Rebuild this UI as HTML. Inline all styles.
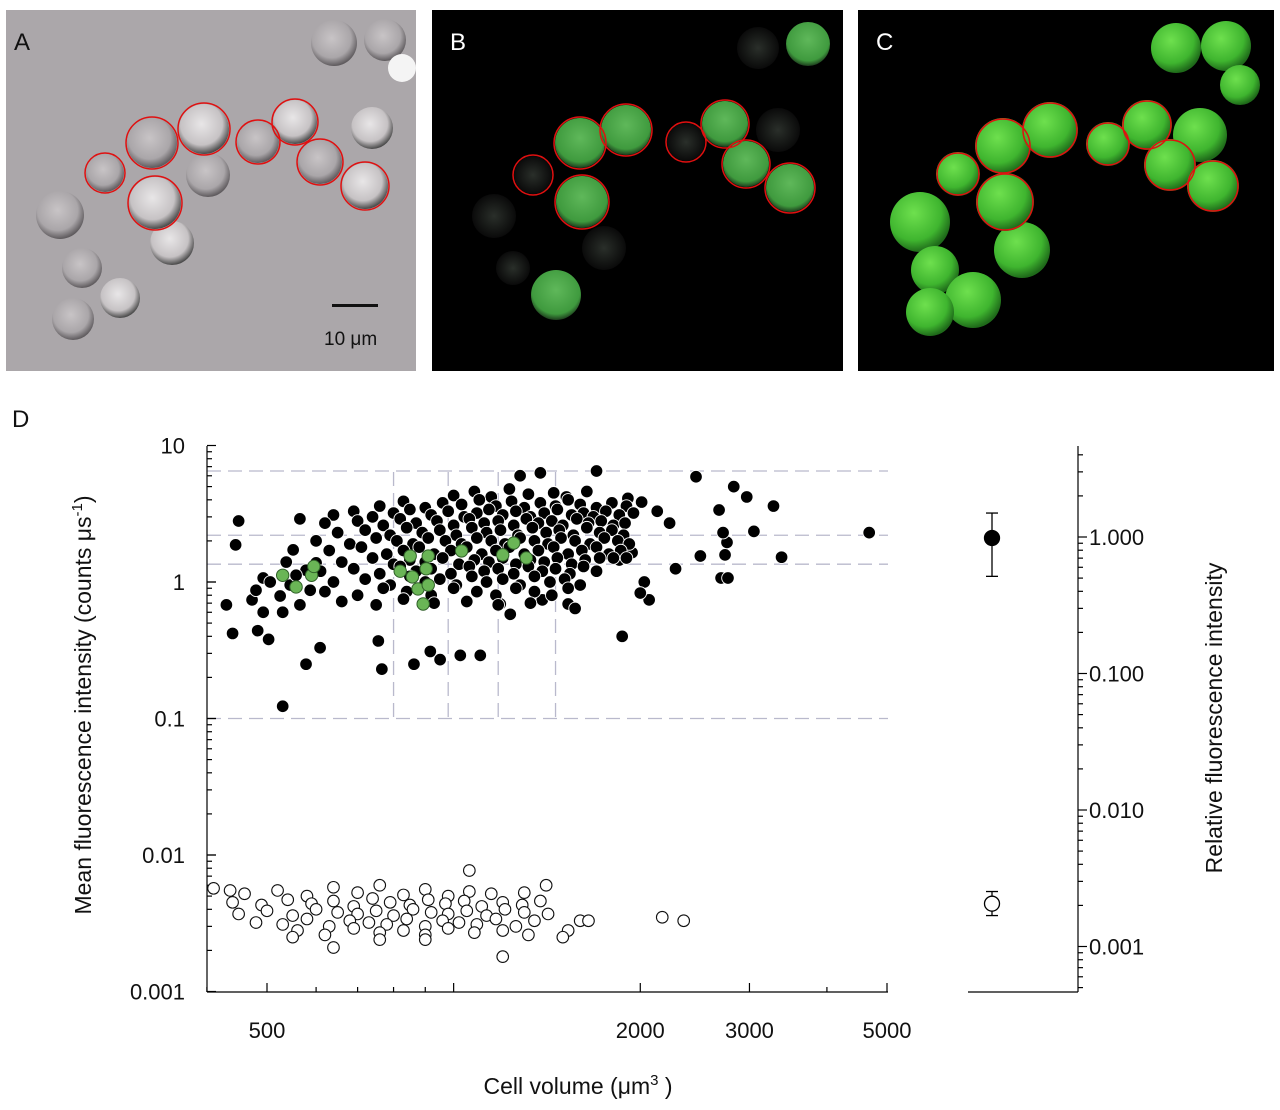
<!DOCTYPE html>
<html><head><meta charset="utf-8"><style>
html,body{margin:0;padding:0;background:#fff;}
svg{display:block;font-family:"Liberation Sans",Arial,sans-serif;}
</style></head><body>
<svg id="fig" width="1280" height="1110" viewBox="0 0 1280 1110">
<defs>
<radialGradient id="cellA" cx="45%" cy="40%" r="60%"><stop offset="0" stop-color="#c8c4c6"/><stop offset="0.7" stop-color="#aaa6a9"/><stop offset="1" stop-color="#5e5a5d"/></radialGradient>
<radialGradient id="cellW" cx="45%" cy="40%" r="60%"><stop offset="0" stop-color="#e8e6e7"/><stop offset="0.7" stop-color="#c6c2c4"/><stop offset="1" stop-color="#4a4a4a"/></radialGradient>
<radialGradient id="cellG" cx="50%" cy="40%" r="60%"><stop offset="0" stop-color="#5fb85a"/><stop offset="0.8" stop-color="#3f9a3e"/><stop offset="1" stop-color="#1d3d1d"/></radialGradient>
<radialGradient id="cellD" cx="50%" cy="50%" r="50%"><stop offset="0" stop-color="#2a2f2a"/><stop offset="1" stop-color="#0a0a0a"/></radialGradient>
<radialGradient id="cellC" cx="40%" cy="35%" r="65%"><stop offset="0" stop-color="#6ee04e"/><stop offset="0.7" stop-color="#3fb52f"/><stop offset="1" stop-color="#1f6a1a"/></radialGradient>
</defs>

<g>
<rect x="6" y="10" width="410" height="361" fill="#aba7aa"/>
<g>
<circle cx="334" cy="43" r="23" fill="url(#cellA)"/><circle cx="385" cy="40" r="21" fill="url(#cellA)"/><circle cx="402" cy="68" r="14" fill="#f4f4f4"/>
<circle cx="372" cy="128" r="21" fill="url(#cellW)"/><circle cx="208" cy="175" r="22" fill="url(#cellA)"/>
<circle cx="172" cy="243" r="22" fill="url(#cellW)"/><circle cx="60" cy="215" r="24" fill="url(#cellA)"/>
<circle cx="82" cy="268" r="20" fill="url(#cellA)"/><circle cx="73" cy="319" r="21" fill="url(#cellA)"/><circle cx="120" cy="298" r="20" fill="url(#cellW)"/>
<circle cx="105" cy="173" r="19" fill="url(#cellA)"/><circle cx="152" cy="143" r="25" fill="url(#cellA)"/><circle cx="204" cy="129" r="25" fill="url(#cellW)"/>
<circle cx="155" cy="203" r="26" fill="url(#cellW)"/><circle cx="258" cy="142" r="21" fill="url(#cellA)"/><circle cx="295" cy="122" r="22" fill="url(#cellW)"/>
<circle cx="320" cy="162" r="22" fill="url(#cellA)"/><circle cx="365" cy="186" r="23" fill="url(#cellW)"/>
</g>
<g fill="none" stroke="#e01010" stroke-width="1.5">
<circle cx="105" cy="173" r="20"/><circle cx="152" cy="143" r="26"/><circle cx="204" cy="129" r="26"/><circle cx="155" cy="203" r="27"/>
<circle cx="258" cy="142" r="22"/><circle cx="295" cy="122" r="23"/><circle cx="320" cy="162" r="23"/><circle cx="365" cy="186" r="24"/>
</g>
<text x="14" y="50" font-size="24" fill="#111">A</text>
<rect x="332" y="304" width="46" height="3" fill="#111"/>
<text x="324" y="345" font-size="19" fill="#111">10 μm</text>
</g>

<g>
<rect x="432" y="10" width="411" height="361" fill="#000"/>
<g>
<circle cx="758" cy="48" r="21" fill="url(#cellD)"/><circle cx="808" cy="44" r="22" fill="url(#cellG)"/>
<circle cx="778" cy="130" r="22" fill="url(#cellD)"/><circle cx="494" cy="216" r="22" fill="url(#cellD)"/>
<circle cx="604" cy="248" r="22" fill="url(#cellD)"/><circle cx="513" cy="268" r="17" fill="url(#cellD)"/>
<circle cx="556" cy="295" r="25" fill="url(#cellG)"/>
<circle cx="533" cy="175" r="19" fill="url(#cellD)"/><circle cx="580" cy="143" r="25" fill="url(#cellG)"/><circle cx="626" cy="130" r="25" fill="url(#cellG)"/>
<circle cx="582" cy="202" r="26" fill="url(#cellG)"/><circle cx="686" cy="142" r="19" fill="url(#cellD)"/><circle cx="725" cy="124" r="23" fill="url(#cellG)"/>
<circle cx="746" cy="164" r="23" fill="url(#cellG)"/><circle cx="790" cy="188" r="24" fill="url(#cellG)"/>
</g>
<g fill="none" stroke="#e01010" stroke-width="1.5">
<circle cx="533" cy="175" r="20"/><circle cx="580" cy="143" r="26"/><circle cx="626" cy="130" r="26"/><circle cx="582" cy="202" r="27"/>
<circle cx="686" cy="142" r="20"/><circle cx="725" cy="124" r="24"/><circle cx="746" cy="164" r="24"/><circle cx="790" cy="188" r="25"/>
</g>
<text x="450" y="50" font-size="24" fill="#fff">B</text>
</g>

<g>
<rect x="858" y="10" width="416" height="361" fill="#000"/>
<g>
<circle cx="1176" cy="48" r="25" fill="url(#cellC)"/><circle cx="1226" cy="46" r="25" fill="url(#cellC)"/><circle cx="1240" cy="85" r="20" fill="url(#cellC)"/>
<circle cx="1200" cy="135" r="27" fill="url(#cellC)"/><circle cx="1022" cy="250" r="28" fill="url(#cellC)"/><circle cx="920" cy="222" r="30" fill="url(#cellC)"/>
<circle cx="935" cy="270" r="24" fill="url(#cellC)"/><circle cx="973" cy="300" r="28" fill="url(#cellC)"/><circle cx="930" cy="312" r="24" fill="url(#cellC)"/>
<circle cx="958" cy="174" r="22" fill="url(#cellC)"/><circle cx="1003" cy="146" r="28" fill="url(#cellC)"/><circle cx="1050" cy="130" r="28" fill="url(#cellC)"/>
<circle cx="1005" cy="202" r="29" fill="url(#cellC)"/><circle cx="1108" cy="144" r="22" fill="url(#cellC)"/><circle cx="1147" cy="125" r="25" fill="url(#cellC)"/>
<circle cx="1170" cy="165" r="26" fill="url(#cellC)"/><circle cx="1213" cy="186" r="26" fill="url(#cellC)"/>
</g>
<g fill="none" stroke="#e01010" stroke-width="1.5">
<circle cx="958" cy="174" r="21"/><circle cx="1003" cy="146" r="27"/><circle cx="1050" cy="130" r="27"/><circle cx="1005" cy="202" r="28"/>
<circle cx="1108" cy="144" r="21"/><circle cx="1147" cy="125" r="24"/><circle cx="1170" cy="165" r="25"/><circle cx="1213" cy="186" r="25"/>
</g>
<text x="876" y="50" font-size="24" fill="#fff">C</text>
</g>

<text x="12" y="427" font-size="24" fill="#111">D</text>
<g id="chart"></g>
</svg>
<script>
const blackVol = [430,440,445,450,473,483,493,503,530,537,545,551,565,578,609,493,480,506,525,530,565,578,587,600,557,
756,766,863,917,951,1025,1104,1234,1189,1390,1530,1570,1870,2067,
2010,2130,2230,2280,2460,2500,2680,2700,2770,2740,2830,2970,3050,3280,3380,4680,2760,2720,1940,1850,2030,2000,1910,1700,1380,1280,
1000,1080,1150,1230,1320,1450,1520,1640,
760,830,900,960,1030,1100,1170,1240,1300,1380,1460,1530,1600,1700,1800,1900,
640,690,740,800,850,920,980,1040,1090,1140,1200,1260,1330,1400,1470,1550,1620,1680,1760,1850,1950,
620,700,770,820,870,940,1000,1060,1120,1180,1250,1310,1370,1440,1500,1580,1650,1730,1810,1890,
650,720,790,840,890,950,1010,1070,1130,1190,1270,1340,1410,1480,1560,1640,1720,1800,1880,
600,680,750,810,860,910,970,1030,1090,1150,1210,1280,1350,1420,1490,1570,1660,1750,1840,1920,
630,710,780,830,880,930,990,1050,1110,1170,1230,1300,1370,1450,1530,1610,1700,1780,1860,
660,740,800,850,900,960,1020,1080,1140,1200,1260,1330,1400,1470,1550,1630,1720,1810,1900,
610,690,760,820,870,920,990,1060,1120,1180,1250,1320,1390,1460,1540,1620,1700,
640,720,790,850,900,950,1010,1070,1130,1200,1280,1350,1430,1510,1600,
620,700,770,840,920,1000,1090,1170,1260,1350,1440,1530,
660,750,830,930,1050,1180,1330];
const blackInt = [0.68,0.42,1.87,2.8,0.74,0.44,0.6,0.38,0.123,1.4,0.95,1.72,2.9,0.25,0.33,1.07,0.87,1.0,0.79,0.6,0.68,1.22,0.87,1.38,1.12,
0.37,0.23,0.25,0.31,0.27,0.29,0.29,0.58,0.69,0.74,0.69,0.64,0.40,0.74,
3.85,3.3,2.7,1.25,5.9,1.55,3.37,1.07,1.07,1.58,5.0,4.2,2.35,3.6,1.52,2.3,1.95,2.3,1.64,1.45,1.0,0.83,4.1,6.5,6.3,6.0,
4.3,4.6,4.2,4.8,4.4,4.5,4.2,4.6,
3.6,3.9,3.5,3.8,3.7,4.0,3.6,3.9,3.5,3.8,3.6,4.0,3.7,3.5,3.8,3.6,
3.1,3.3,3.0,3.2,3.4,3.1,3.3,3.0,3.2,3.4,3.1,3.3,3.0,3.2,3.4,3.1,3.2,3.0,3.3,3.1,3.2,
2.7,2.8,2.6,2.9,2.7,2.8,2.6,2.9,2.7,2.8,2.6,2.9,2.7,2.8,2.6,2.9,2.7,2.8,2.6,2.7,
2.3,2.4,2.2,2.5,2.3,2.4,2.2,2.5,2.3,2.4,2.2,2.5,2.3,2.4,2.2,2.5,2.3,2.4,2.2,
2.0,1.9,2.1,2.0,1.9,2.1,2.0,1.9,2.1,2.0,1.9,2.1,2.0,1.9,2.1,2.0,1.9,2.1,2.0,1.9,
1.7,1.8,1.6,1.7,1.8,1.6,1.7,1.8,1.6,1.7,1.8,1.6,1.7,1.8,1.6,1.7,1.8,1.6,1.7,
1.4,1.5,1.35,1.45,1.4,1.5,1.35,1.45,1.4,1.5,1.35,1.45,1.4,1.5,1.35,1.45,1.5,1.5,1.5,
1.2,1.25,1.15,1.3,1.2,1.25,1.15,1.3,1.2,1.25,1.15,1.3,1.2,1.25,1.15,1.3,1.2,
1.0,1.05,0.95,1.1,1.0,1.05,0.95,1.1,1.0,1.05,0.95,1.1,1.0,1.05,0.95,
0.85,0.8,0.9,0.85,0.8,0.9,0.85,0.8,0.9,0.85,0.8,0.9,
0.72,0.68,0.75,0.7,0.72,0.68,0.7];
const greenVol = [530,557,590,595,820,851,858,876,893,903,910,910,1030,1200,1250,1310];
const greenInt = [1.12,0.92,1.12,1.3,1.2,1.55,1.09,0.89,0.69,1.25,0.95,1.55,1.69,1.58,1.93,1.5];
const openVol = [460,520,580,640,700,760,830,900,980,1060,1150,1300,
440,490,540,590,640,690,740,790,850,910,970,1040,1110,1200,1290,1380,
450,500,550,600,650,700,750,800,860,920,980,1050,1130,1210,1300,1420,1600,
480,530,580,630,680,730,780,840,900,960,1020,1090,1170,1260,1350,
560,620,690,760,830,900,980,1080,1200,1320,
410,436,1060,1410,1200,640,550,1530,1500,2170,2350,1650,760,900];
const openInt = [0.0052,0.0055,0.005,0.0058,0.0053,0.006,0.0051,0.0056,0.005,0.0054,0.0052,0.0053,
0.0045,0.0043,0.0047,0.0044,0.0046,0.0042,0.0048,0.0045,0.0043,0.0047,0.0044,0.0046,0.0042,0.0045,0.0043,0.0046,
0.0037,0.0039,0.0036,0.004,0.0038,0.0037,0.0039,0.0036,0.004,0.0038,0.0037,0.0039,0.0036,0.004,0.0038,0.0037,0.0033,
0.0032,0.0031,0.0034,0.003,0.0033,0.0032,0.0031,0.0034,0.003,0.0033,0.0032,0.0031,0.0034,0.003,0.0033,
0.0028,0.0026,0.0029,0.0027,0.0028,0.0026,0.0029,0.0027,0.0028,0.0026,
0.0057,0.0055,0.0077,0.006,0.0018,0.0021,0.0025,0.0028,0.0025,0.0035,0.0033,0.0033,0.0024,0.0024];
const summaryMean = [2.1, 0.0044];
const summaryLo = [1.1, 0.0036];
const summaryHi = [3.2, 0.0054];
const xTicks = [500, 2000, 3000, 5000];
const xTickLabels = ["500", "2000", "3000", "5000"];
const yTicks = [10, 1, 0.1, 0.01, 0.001];
const yTickLabels = ["10", "1", "0.1", "0.01", "0.001"];
const rTicks = [1, 0.1, 0.01, 0.001];
const rTickLabels = ["1.000", "0.100", "0.010", "0.001"];
const hGuides = [6.5, 2.2, 1.35, 0.1];
const vGuides = [800, 980, 1180, 1460];

const L = Math.log10;
const X0 = 207, X1 = 888, Y0 = 446, Y1 = 992;
const xs = v => 267 + 620 * L(v / 500);
const ys = i => 582 - 136.5 * L(i);
const yr = r => 537 - 136.5 * L(r);
const NS = 'http://www.w3.org/2000/svg';
const chart = document.getElementById('chart');
function mk(tag, attrs, parent) {
  const e = document.createElementNS(NS, tag);
  for (const k in attrs) e.setAttribute(k, attrs[k]);
  (parent || chart).appendChild(e);
  return e;
}
function txt(s, attrs, parent) { const e = mk('text', attrs, parent); e.textContent = s; return e; }

const gg = mk('g', {stroke: '#b9b9cc', 'stroke-width': 1.3, 'stroke-dasharray': '14 7', fill: 'none'});


hGuides.forEach(h => { const l = mk('line', {x1: X0, x2: X1, y1: ys(h), y2: ys(h)}, gg);
  
   });
vGuides.forEach(v => { const l = mk('line', {x1: xs(v), x2: xs(v), y1: 472, y2: ys(0.1)}, gg);
  
   });

const ax = mk('g', {stroke: '#000', 'stroke-width': 1.2, fill: 'none'});


mk('line', {x1: X0, x2: X0, y1: Y0, y2: Y1}, ax);
mk('line', {x1: X0, x2: X1, y1: Y1, y2: Y1}, ax);
for (let d = -3; d <= 0; d++) for (let m = 1; m <= 10; m++) {
  const y = ys(m * Math.pow(10, d)); const big = m === 1 || m === 10;
  mk('line', {x1: X0, x2: X0 + (big ? 9 : 5), y1: y, y2: y}, ax);
}
[400,500,600,700,800,900,1000,2000,3000,4000,5000].forEach(v => {
  const x = xs(v); const big = v === 1000 || xTicks.includes(v);
  if (x >= X0 - 1) mk('line', {x1: x, x2: x, y1: Y1, y2: Y1 - (big ? 9 : 5)}, ax);
});
mk('line', {x1: 968, x2: 1078, y1: Y1, y2: Y1}, ax);
mk('line', {x1: 1078, x2: 1078, y1: Y0, y2: Y1}, ax);
for (let d = -4; d <= 0; d++) for (let m = 1; m <= 9; m++) {
  const r = m * Math.pow(10, d); const y = yr(r);
  if (y < Y0 || y > Y1) continue;
  mk('line', {x1: 1078, x2: 1078 + (m === 1 ? 9 : 5), y1: y, y2: y}, ax);
}

yTicks.forEach((t, k) => { const e = txt(yTickLabels[k], {x: 185, y: ys(t) + 8, 'font-size': 22, 'text-anchor': 'end', fill: '#111'});
  
   });
xTicks.forEach((t, k) => { const e = txt(xTickLabels[k], {x: xs(t), y: 1038, 'font-size': 22, 'text-anchor': 'middle', fill: '#111'});
  
   });
rTicks.forEach((t, k) => { const e = txt(rTickLabels[k], {x: 1089, y: yr(t) + 8, 'font-size': 22, fill: '#111'});
  
   });

const xt = txt('', {x: 578, y: 1094, 'font-size': 23, 'text-anchor': 'middle', fill: '#111'});
xt.innerHTML = 'Cell volume (μm<tspan dy="-9" font-size="15">3</tspan><tspan dy="9"> )</tspan>';


const yt = txt('', {x: 0, y: 0, 'font-size': 23, 'text-anchor': 'middle', fill: '#111', transform: 'translate(91,705) rotate(-90)'});
yt.innerHTML = 'Mean fluorescence intensity (counts μs<tspan dy="-9" font-size="15">-1</tspan><tspan dy="9">)</tspan>';


const rt = txt('Relative fluorescence intensity', {x: 0, y: 0, 'font-size': 23, 'text-anchor': 'middle', fill: '#111', transform: 'translate(1222,718) rotate(-90)'});



const pg = mk('g', {});


openVol.forEach((v, k) => { const c = mk('circle', {cx: xs(v), cy: ys(openInt[k]), r: 5.8, fill: '#fff', stroke: '#111', 'stroke-width': 1.1}, pg);
  
   });
blackVol.forEach((v, k) => { const c = mk('circle', {cx: xs(v), cy: ys(blackInt[k]), r: 6.3, fill: '#000', stroke: '#fff', 'stroke-width': 0.9}, pg);
  
   });
greenVol.forEach((v, k) => { const c = mk('circle', {cx: xs(v), cy: ys(greenInt[k]), r: 6.2, fill: '#6ab556', stroke: '#2f5f28', 'stroke-width': 1}, pg);
  
   });

summaryMean.forEach((m, k) => {
  const g = mk('g', {stroke: '#000', 'stroke-width': 1.3});
  
  
  mk('line', {x1: 992, x2: 992, y1: ys(summaryHi[k]), y2: ys(summaryLo[k])}, g);
  mk('line', {x1: 986, x2: 998, y1: ys(summaryHi[k]), y2: ys(summaryHi[k])}, g);
  mk('line', {x1: 986, x2: 998, y1: ys(summaryLo[k]), y2: ys(summaryLo[k])}, g);
  mk('circle', {cx: 992, cy: ys(m), r: 7.5, fill: k === 0 ? '#000' : '#fff'}, g);
});
</script>
</body></html>
